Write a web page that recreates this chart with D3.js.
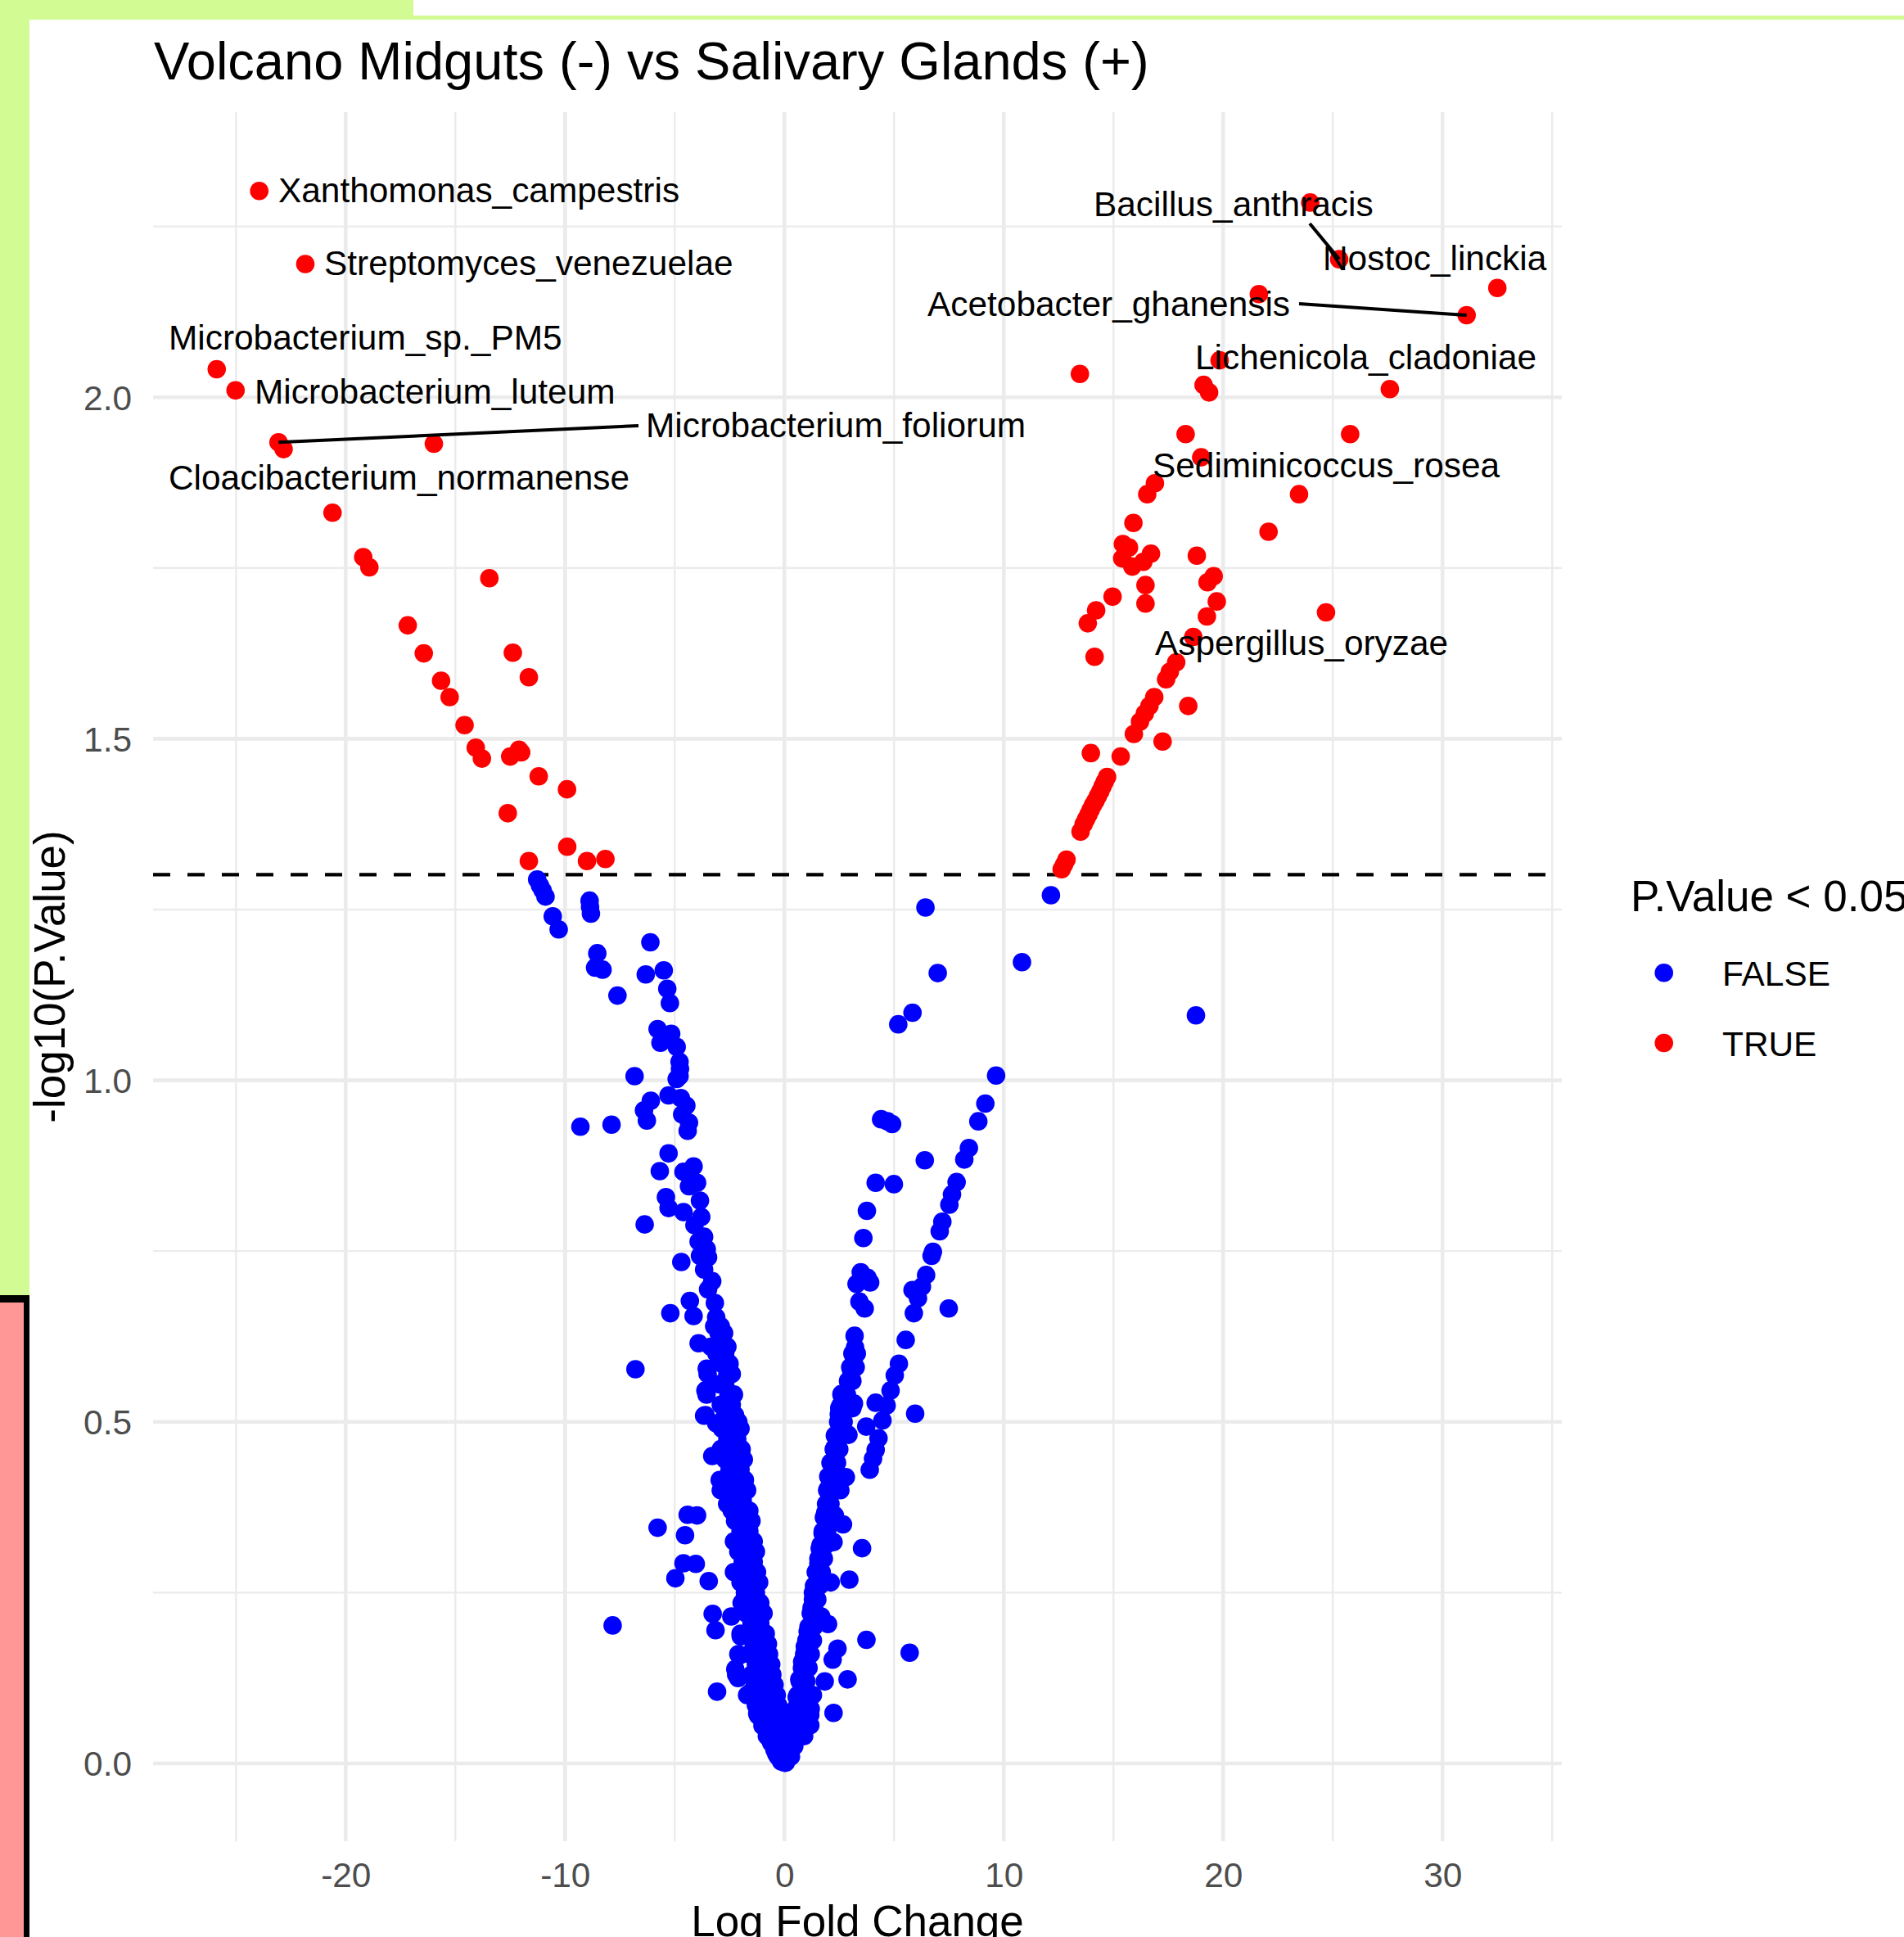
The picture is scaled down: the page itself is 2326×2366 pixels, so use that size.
<!DOCTYPE html>
<html>
<head>
<meta charset="utf-8">
<script src="https://cdn.jsdelivr.net/npm/d3@7"></script>
<style>
  html, body { margin: 0; padding: 0; background: #ffffff; }
  svg { display: block; }
</style>
</head>
<body>
<svg id="chart" width="2326" height="2366"></svg>
<script>
// ---- data: log fold change vs -log10(p) ----
// taxa with P.Value >= 0.05
const notSignificant = [
  // left arm, upper part
  [-11.27,1.294],[-11.14,1.285],[-11.02,1.278],[-10.89,1.269],[-10.56,1.240],[-10.29,1.221],
  [-8.88,1.263],[-8.86,1.254],[-8.82,1.244],
  [-6.11,1.202],[-8.53,1.186],[-8.63,1.165],[-8.29,1.162],[-6.32,1.155],[-5.50,1.161],[-7.61,1.124],[-5.34,1.134],[-5.22,1.113],
  [-5.78,1.075],[-5.16,1.068],[-5.65,1.055],[-4.91,1.049],[-4.78,1.027],[-4.76,1.017],[-4.78,1.006],[-4.91,1.002],[-6.83,1.006],
  [-5.28,0.978],[-4.72,0.974],[-4.47,0.963],[-6.09,0.970],[-6.40,0.956],[-6.27,0.941],[-4.66,0.950],[-4.35,0.938],[-4.41,0.926],
  [-9.30,0.932],[-7.88,0.935],
  [-5.28,0.893],[-5.68,0.867],[-4.14,0.874],[-4.60,0.866],[-3.98,0.850],[-4.35,0.845],[-5.40,0.829],[-5.28,0.813],[-4.60,0.807],
  [-3.85,0.824],[-3.79,0.800],[-4.10,0.788],[-3.66,0.771],[-3.91,0.764],[-3.54,0.753],[-3.85,0.743],[-3.48,0.741],[-3.66,0.723],
  [-6.37,0.789],[-4.70,0.734],[-3.29,0.706],[-3.48,0.694],[-3.17,0.674],[-4.31,0.677],[-5.20,0.659],[-4.14,0.655],[-3.11,0.653],
  // left arm, lower part and outliers
  [-3.91,0.615],[-3.54,0.578],[-3.60,0.546],[-3.66,0.509],[-3.11,0.498],[-6.79,0.577],[-3.29,0.450],[-2.55,0.402],[-2.61,0.380],
  [-5.78,0.345],[-4.41,0.364],[-3.98,0.363],[-4.53,0.334],[-4.60,0.293],[-4.04,0.292],[-4.97,0.271],[-3.45,0.267],[-7.83,0.202],
  [-3.27,0.219],[-3.14,0.195],[-2.42,0.215],[-1.99,0.186],[-2.05,0.158],[-2.24,0.138],[-2.11,0.125],[-3.07,0.105],[-1.55,0.104],
  [-1.24,0.073],[-0.93,0.058],[-0.68,0.036],[-0.37,0.014],[0.00,0.001],
  // left arm, dense band
  [-3.20,0.640],[-2.90,0.640],[-3.00,0.630],[-2.75,0.630],[-3.35,0.610],[-2.80,0.610],[-2.60,0.610],[-3.10,0.600],[-2.70,0.600],
  [-2.85,0.585],[-2.50,0.585],[-3.50,0.570],[-2.60,0.570],[-2.40,0.570],[-3.00,0.555],[-2.70,0.555],[-3.55,0.540],[-2.55,0.540],
  [-2.30,0.540],[-2.90,0.525],[-2.40,0.525],[-3.60,0.510],[-2.70,0.510],[-2.25,0.510],[-2.50,0.500],[-2.10,0.500],[-2.85,0.490],
  [-2.30,0.490],[-2.00,0.490],[-2.60,0.475],[-2.15,0.475],[-2.90,0.460],[-2.40,0.460],[-1.95,0.460],[-2.70,0.445],[-2.20,0.445],
  [-1.85,0.445],[-2.50,0.430],[-2.00,0.430],[-2.95,0.415],[-2.30,0.415],[-1.80,0.415],[-2.90,0.400],[-2.10,0.400],[-1.70,0.400],
  [-2.50,0.385],[-1.90,0.385],[-2.40,0.370],[-2.00,0.370],[-1.60,0.370],[-2.25,0.355],[-1.75,0.355],[-1.50,0.355],[-2.00,0.340],
  [-1.60,0.340],[-2.30,0.325],[-1.80,0.325],[-1.40,0.325],[-2.10,0.310],[-1.55,0.310],[-1.30,0.310],[-1.90,0.295],[-1.40,0.295],
  [-2.30,0.280],[-1.70,0.280],[-1.25,0.280],[-2.00,0.265],[-1.50,0.265],[-1.15,0.265],[-1.80,0.250],[-1.30,0.250],[-1.95,0.235],
  [-1.60,0.235],[-1.10,0.235],[-1.75,0.220],[-1.35,0.220],[-0.95,0.220],[-1.50,0.205],[-1.10,0.205],[-2.00,0.190],[-1.65,0.190],
  [-1.25,0.190],[-0.85,0.190],[-1.40,0.175],[-1.00,0.175],[-0.75,0.175],[-2.10,0.160],[-1.60,0.160],[-1.15,0.160],[-0.70,0.160],
  [-1.30,0.145],[-0.90,0.145],[-0.60,0.145],[-2.20,0.130],[-1.50,0.130],[-1.05,0.130],[-0.55,0.130],[-1.35,0.115],[-0.80,0.115],
  [-0.45,0.115],[-1.70,0.100],[-1.10,0.100],[-0.65,0.100],[-0.35,0.100],[-1.30,0.085],[-0.90,0.085],[-0.50,0.085],[-0.28,0.085],
  [-1.20,0.070],[-0.75,0.070],[-0.40,0.070],[-0.20,0.070],[-1.00,0.055],[-0.60,0.055],[-0.30,0.055],[-0.12,0.055],[-0.80,0.040],
  [-0.45,0.040],[-0.20,0.040],[-0.60,0.030],[-0.30,0.030],[-0.08,0.030],[-0.45,0.020],[-0.20,0.020],[-0.30,0.010],[-0.10,0.010],
  [-0.15,0.003],
  // right arm, outliers
  [12.15,1.271],[6.43,1.253],[10.83,1.173],[6.99,1.157],[5.84,1.099],[5.19,1.082],[9.65,1.007],[9.16,0.966],[8.84,0.940],
  [8.41,0.901],[8.20,0.884],[4.41,0.943],[4.70,0.940],[4.91,0.936],[6.40,0.883],[4.16,0.850],[4.99,0.848],[7.85,0.851],
  [7.64,0.833],[7.52,0.818],[7.20,0.793],[7.08,0.779],[6.77,0.749],[6.71,0.743],[3.76,0.809],[3.60,0.769],[3.48,0.719],
  [3.79,0.711],[3.91,0.704],[3.29,0.702],[3.42,0.676],[3.66,0.666],[6.46,0.715],[6.27,0.698],[5.84,0.693],[6.09,0.681],
  [5.90,0.659],[7.49,0.666],[18.76,1.095],
  // right arm, lower part
  [3.20,0.626],[3.22,0.609],[3.17,0.594],[3.04,0.576],[2.92,0.559],[5.53,0.620],[5.22,0.585],[5.03,0.568],[4.84,0.546],
  [4.66,0.524],[4.47,0.502],[4.16,0.528],[5.96,0.512],[2.61,0.541],[2.55,0.524],[2.48,0.511],[3.17,0.527],[3.73,0.493],
  [2.92,0.481],[4.29,0.476],[4.16,0.459],[4.04,0.446],[3.89,0.430],[2.30,0.463],[2.17,0.437],[2.05,0.419],[2.80,0.419],
  [1.99,0.402],[2.55,0.400],[1.86,0.367],[2.30,0.363],[2.67,0.350],[1.74,0.337],[1.61,0.315],[2.24,0.324],[3.54,0.315],
  [1.55,0.293],[1.43,0.280],[2.11,0.265],[2.96,0.269],[1.30,0.250],[1.24,0.228],[1.68,0.215],[1.99,0.204],[1.06,0.193],
  [0.93,0.171],[2.42,0.168],[2.20,0.152],[3.74,0.181],[5.71,0.162],[0.81,0.149],[0.68,0.123],[1.84,0.120],[2.88,0.123],
  [2.24,0.074],[1.18,0.071],[1.18,0.056],[0.56,0.097],[0.43,0.062],[0.31,0.036],[0.12,0.010],[0.06,0.001],
  // right arm, dense band
  [3.10,0.600],[3.30,0.600],[3.00,0.580],[3.25,0.580],[2.90,0.560],[3.10,0.560],[2.60,0.540],[2.85,0.540],[2.50,0.520],
  [2.80,0.520],[3.10,0.520],[2.45,0.500],[2.70,0.500],[2.30,0.480],[2.60,0.480],[2.25,0.460],[2.50,0.460],[2.10,0.440],
  [2.40,0.440],[2.00,0.420],[2.30,0.420],[1.95,0.400],[2.20,0.400],[1.90,0.380],[2.10,0.380],[1.80,0.360],[2.05,0.360],
  [1.75,0.340],[1.95,0.340],[1.65,0.320],[1.90,0.320],[1.55,0.300],[1.80,0.300],[1.45,0.280],[1.70,0.280],[1.35,0.260],
  [1.60,0.260],[1.30,0.240],[1.50,0.240],[1.20,0.220],[1.45,0.220],[1.10,0.200],[1.35,0.200],[1.00,0.180],[1.30,0.180],
  [0.90,0.160],[1.20,0.160],[0.80,0.140],[1.10,0.140],[0.70,0.120],[1.00,0.120],[0.60,0.100],[0.90,0.100],[1.30,0.100],
  [0.50,0.080],[0.80,0.080],[1.20,0.080],[0.40,0.060],[0.70,0.060],[1.10,0.060],[0.30,0.040],[0.60,0.040],[0.90,0.040],
  [0.20,0.025],[0.45,0.025],[0.10,0.010],[0.30,0.010]
];

// taxa with P.Value < 0.05
const significant = [
  [-23.94,2.302],[-21.84,2.195],[-25.88,2.041],[-25.02,2.010],[-23.06,1.934],[-22.83,1.924],[-15.98,1.932],[-20.60,1.831],
  [-19.20,1.766],[-18.92,1.751],[-17.17,1.666],[-16.44,1.625],[-15.65,1.585],[-15.26,1.561],[-14.58,1.520],[-14.07,1.487],
  [-13.79,1.471],[-13.45,1.735],[-12.38,1.626],[-11.65,1.590],[-12.10,1.484],[-12.50,1.474],[-12.00,1.480],[-11.20,1.445],
  [-9.91,1.426],[-12.61,1.391],[-9.90,1.342],[-9.00,1.321],[-8.16,1.324],[-11.65,1.321],
  [23.97,2.285],[25.29,2.202],[31.10,2.120],[21.63,2.151],[32.50,2.160],[13.47,2.034],[19.84,2.054],[19.11,2.018],
  [19.36,2.007],[27.60,2.012],[18.29,1.946],[25.79,1.946],[19.00,1.912],[16.89,1.874],[16.54,1.858],[23.46,1.858],
  [15.91,1.816],[22.07,1.803],[15.43,1.785],[15.71,1.780],[15.40,1.764],[15.86,1.752],[16.36,1.759],[16.71,1.771],
  [18.80,1.768],[19.57,1.738],[19.29,1.729],[19.71,1.701],[16.46,1.725],[16.46,1.698],[14.96,1.708],[14.21,1.688],
  [13.83,1.669],[14.14,1.620],[24.69,1.685],[19.26,1.679],[18.64,1.649],[17.86,1.612],[17.57,1.598],[17.40,1.587],
  [16.86,1.561],[16.64,1.548],[16.43,1.537],[16.21,1.525],[15.93,1.507],[18.41,1.548],[17.24,1.496],[13.97,1.479],
  [15.33,1.474],[14.71,1.444],[14.60,1.437],[14.50,1.430],[14.40,1.423],[14.29,1.416],[14.18,1.409],[14.07,1.403],
  [13.96,1.396],[13.86,1.389],[13.75,1.382],[13.64,1.375],[13.50,1.364],[12.86,1.323],[12.75,1.316],[12.64,1.309]
];

// labelled taxa
const labelNames = [
  "Xanthomonas_campestris","Streptomyces_venezuelae","Microbacterium_sp._PM5","Microbacterium_luteum",
  "Microbacterium_foliorum","Cloacibacterium_normanense","Bacillus_anthracis","Nostoc_linckia",
  "Acetobacter_ghanensis","Lichenicola_cladoniae","Sediminicoccus_rosea","Aspergillus_oryzae"
];
const labelPoints = [
  [-23.94,2.302],[-21.84,2.195],[-25.88,2.041],[-25.02,2.010],
  [-23.06,1.934],[-20.60,1.831],[25.29,2.202],[32.50,2.160],
  [31.10,2.120],[19.84,2.054],[19.00,1.912],[18.64,1.649]
];

const xTicks = [-20, -10, 0, 10, 20, 30];
const yTicks = [0, 0.5, 1.0, 1.5, 2.0];
const threshold = -Math.log10(0.05);
const legendTitle = "P.Value < 0.05";
const legendKeys = ["FALSE", "TRUE"];

// ---- layout ----
const W = 2326, H = 2366;
const panel = { left: 187, right: 1908, top: 137, bottom: 2249 };
const FONT = "'Liberation Sans', Arial, Helvetica, sans-serif";
const colors = { FALSE: "#0000ff", TRUE: "#ff0000" };
const R = 11.3;

// text placement of repelled labels (pixel positions of the text's left baseline)
// and optional connector start points
const labelLayout = [
  { tx: 340, ty: 247 },
  { tx: 396, ty: 336 },
  { tx: 206, ty: 427 },
  { tx: 311, ty: 493 },
  { tx: 789, ty: 534, seg: [780, 520] },
  { tx: 206, ty: 598 },
  { tx: 1336, ty: 264, seg: [1600, 273] },
  { tx: 1616, ty: 330 },
  { tx: 1133, ty: 386, seg: [1587, 371] },
  { tx: 1460, ty: 451 },
  { tx: 1408, ty: 583 },
  { tx: 1411, ty: 800 }
];

const svg = d3.select("#chart");

// page framing
svg.append("rect").attr("x", 0).attr("y", 0).attr("width", W).attr("height", H).attr("fill", "#ffffff");
svg.append("rect").attr("x", 0).attr("y", 0).attr("width", 505).attr("height", 24).attr("fill", "#d3fb93");
svg.append("rect").attr("x", 505).attr("y", 19).attr("width", W - 505).attr("height", 5).attr("fill", "#d3fb93");
svg.append("rect").attr("x", 0).attr("y", 0).attr("width", 36).attr("height", 1582).attr("fill", "#d3fb93");
svg.append("rect").attr("x", 0).attr("y", 1582).attr("width", 36).attr("height", H - 1582).attr("fill", "#000000");
svg.append("rect").attr("x", 0).attr("y", 1591).attr("width", 29).attr("height", H - 1591).attr("fill", "#ff9797");

// scales
const x = d3.scaleLinear().domain([-28.78, 35.44]).range([panel.left, panel.right]);
const y = d3.scaleLinear().domain([-0.1139, 2.4173]).range([panel.bottom, panel.top]);

// grid
const grid = svg.append("g");
const xMinor = d3.range(-25, 36, 10);
const yMinor = [0.25, 0.75, 1.25, 1.75, 2.25];
grid.selectAll(".gxm").data(xMinor).join("line")
  .attr("x1", d => x(d)).attr("x2", d => x(d)).attr("y1", panel.top).attr("y2", panel.bottom)
  .attr("stroke", "#ebebeb").attr("stroke-width", 2.4);
grid.selectAll(".gym").data(yMinor).join("line")
  .attr("x1", panel.left).attr("x2", panel.right).attr("y1", d => y(d)).attr("y2", d => y(d))
  .attr("stroke", "#ebebeb").attr("stroke-width", 2.4);
grid.selectAll(".gx").data(xTicks).join("line")
  .attr("x1", d => x(d)).attr("x2", d => x(d)).attr("y1", panel.top).attr("y2", panel.bottom)
  .attr("stroke", "#ebebeb").attr("stroke-width", 4.6);
grid.selectAll(".gy").data(yTicks).join("line")
  .attr("x1", panel.left).attr("x2", panel.right).attr("y1", d => y(d)).attr("y2", d => y(d))
  .attr("stroke", "#ebebeb").attr("stroke-width", 4.6);

// axes (labels only; plain hyphen for negatives)
const xAxis = svg.append("g").attr("transform", `translate(0,${panel.bottom})`)
  .call(d3.axisBottom(x).tickValues(xTicks).tickSize(0).tickPadding(26).tickFormat(d => String(d)));
const yAxis = svg.append("g").attr("transform", `translate(${panel.left},0)`)
  .call(d3.axisLeft(y).tickValues(yTicks).tickSize(0).tickPadding(26).tickFormat(d => d.toFixed(1)));
[xAxis, yAxis].forEach(g => {
  g.select(".domain").remove();
  g.selectAll("text").attr("font-family", FONT).attr("font-size", 42.4).attr("fill", "#4d4d4d");
});
yAxis.selectAll("text").attr("dy", "0.35em");

// threshold line
svg.append("line")
  .attr("x1", panel.left).attr("x2", panel.right)
  .attr("y1", y(threshold)).attr("y2", y(threshold))
  .attr("stroke", "#000").attr("stroke-width", 4.4).attr("stroke-dasharray", "21,21");

// points
const pts = svg.append("g");
pts.selectAll(".ns").data(notSignificant).join("circle")
  .attr("cx", d => x(d[0])).attr("cy", d => y(d[1])).attr("r", R).attr("fill", colors.FALSE);
pts.selectAll(".sg").data(significant).join("circle")
  .attr("cx", d => x(d[0])).attr("cy", d => y(d[1])).attr("r", R).attr("fill", colors.TRUE);

// repelled labels
const lab = svg.append("g");
labelNames.forEach((name, i) => {
  const L = labelLayout[i];
  const p = labelPoints[i];
  if (L.seg) {
    lab.append("line")
      .attr("x1", L.seg[0]).attr("y1", L.seg[1])
      .attr("x2", x(p[0])).attr("y2", y(p[1]))
      .attr("stroke", "#000").attr("stroke-width", 4);
  }
});
labelNames.forEach((name, i) => {
  const L = labelLayout[i];
  lab.append("text").attr("x", L.tx).attr("y", L.ty)
    .attr("font-family", FONT).attr("font-size", 42.4).attr("fill", "#000").text(name);
});

// titles
svg.append("text").attr("x", 188).attr("y", 97)
  .attr("font-family", FONT).attr("font-size", 65).attr("fill", "#000")
  .text("Volcano Midguts (-) vs Salivary Glands (+)");
svg.append("text")
  .attr("transform", `translate(79,${(panel.top + panel.bottom) / 2}) rotate(-90)`)
  .attr("text-anchor", "middle")
  .attr("font-family", FONT).attr("font-size", 53).attr("fill", "#000")
  .text("-log10(P.Value)");
svg.append("text").attr("x", (panel.left + panel.right) / 2).attr("y", 2365)
  .attr("text-anchor", "middle")
  .attr("font-family", FONT).attr("font-size", 53).attr("fill", "#000")
  .text("Log Fold Change");

// legend
const leg = svg.append("g");
leg.append("text").attr("x", 1992).attr("y", 1113)
  .attr("font-family", FONT).attr("font-size", 53).attr("fill", "#000").text(legendTitle);
legendKeys.forEach((k, i) => {
  const cy = 1188.3 + i * 85.7;
  leg.append("circle").attr("cx", 2032.7).attr("cy", cy).attr("r", R).attr("fill", colors[k]);
  leg.append("text").attr("x", 2104).attr("y", cy + 15.5)
    .attr("font-family", FONT).attr("font-size", 42.4).attr("fill", "#000").text(k);
});
</script>
</body>
</html>
